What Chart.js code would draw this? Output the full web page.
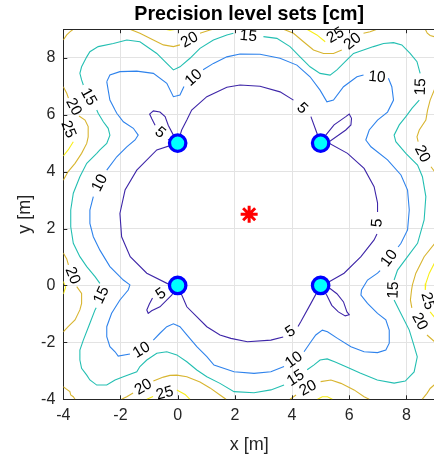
<!DOCTYPE html>
<html><head><meta charset="utf-8">
<script src="https://cdn.jsdelivr.net/npm/chart.js@4.4.1/dist/chart.umd.min.js"></script>
<style>html,body{margin:0;padding:0;overflow:hidden;background:#fff;}#wrap{width:435px;height:460px;}</style>
</head><body><div id="wrap"><canvas id="c" width="435" height="460"></canvas></div>
<script>
// ---------- data ----------
const xTicks = [-4, -2, 0, 2, 4, 6, 8];
const yTicks = [-4, -2, 0, 2, 4, 6, 8];
const levels = [5, 10, 15, 20, 25];
const anchors = [[0, 0], [0, 5], [5, 0], [5, 5]];
const target = [[2.5, 2.5]];

// contour polylines (x, y in metres); null = break (label gap)
const level5Main = [[0,5],[0.14,5.46],[0.32,5.81],[0.49,6.16],[1.02,6.63],[1.72,6.96],[2.18,7.04],[2.88,7.0],[3.58,6.80],[4.05,6.51],null,
  [4.66,5.93],[4.83,5.46],[5,5],[5.30,4.99],[5.94,4.64],[6.52,4.11],[6.87,3.47],[6.99,2.90],[6.99,2.58],null,
  [6.97,1.81],[6.87,1.60],[6.41,1.01],[5.82,0.43],[5.30,0.13],[5,0],[4.66,-0.63],[4.31,-1.27],[4.21,-1.44],null,
  [3.69,-1.81],[3.26,-1.92],[2.44,-1.98],[1.86,-1.86],[1.48,-1.74],[1.02,-1.45],[0.32,-0.75],[0,0],
  [-0.27,0.02],[-1.08,0.43],[-1.66,1.01],[-1.96,1.71],[-2.02,2.53],[-1.84,3.35],[-1.43,4.05],[-0.73,4.76],[0,5]];
const level5LobeA = [[0,5],[-0.15,5.28],[-0.33,5.63],[-0.44,5.93],[-0.62,6.09],[-0.85,6.13],[-0.98,6.02],[-0.90,5.85],[-0.79,5.63],null,[-0.34,5.13],[0,5]];
const level5LobeB = [[5,5],[5.18,5.28],[5.47,5.64],[5.88,5.93],[6.0,6.02],[6.08,5.87],[6.06,5.64],[5.88,5.46],[5.30,5.05],[5,5]];
const level5LobeC = [[0,0],[-0.20,-0.14],null,[-0.88,-0.44],[-0.99,-0.65],[-1.08,-0.86],[-1.03,-0.98],[-0.91,-0.89],[-0.62,-0.75],[-0.21,-0.34],[0,0]];
const level5LobeD = [[5,0],[5.33,-0.11],[5.57,-0.29],[5.80,-0.58],[5.92,-0.93],[6.0,-1.03],[5.86,-1.07],[5.62,-0.93],[5.39,-0.70],[5.22,-0.35],[5,0]];

const level10 = [[-2.48,7.16],[-2.37,7.39],[-2.02,7.51],[-1.43,7.53],[-0.85,7.45],[-0.38,7.10],[-0.15,6.63],[0.08,6.69],[0.22,6.99],null,
  [0.89,7.58],[1.25,7.80],[1.72,8.03],[2.18,8.13],[2.88,8.12],[3.58,7.98],[4.17,7.74],[4.63,7.33],[4.98,6.86],[5.22,6.45],[5.45,6.51],
  [5.80,6.98],[6.27,7.33],[6.50,7.39],null,[7.37,7.28],[7.49,6.98],[7.55,6.51],[7.34,6.09],[6.99,5.81],[6.70,5.46],[6.58,5.11],[6.76,4.87],
  [7.34,4.41],[7.81,3.88],[8.04,3.35],[8.10,2.65],[8.04,1.95],[7.81,1.48],[7.71,1.35],null,[7.08,0.52],[6.99,0.43],[6.64,0.19],[6.43,-0.16],
  [6.41,-0.34],[6.64,-0.63],[6.99,-0.98],[7.28,-1.21],[7.40,-1.57],[7.40,-2.03],[7.28,-2.27],[6.99,-2.36],[6.52,-2.33],[6.06,-2.15],
  [5.59,-1.86],[5.24,-1.63],[5.06,-1.57],[4.83,-1.74],[4.66,-1.98],[4.42,-2.33],null,[3.72,-2.85],[3.26,-3.03],[2.67,-3.09],[1.97,-3.03],
  [1.27,-2.80],[1.02,-2.50],[0.67,-2.15],[0.32,-1.74],[0.08,-1.45],[-0.15,-1.35],[-0.38,-1.45],[-0.62,-1.68],[-0.85,-1.92],null,
  [-1.67,-2.41],[-2.08,-2.48],[-2.19,-2.33],[-2.37,-2.15],[-2.48,-1.80],[-2.48,-1.45],[-2.31,-0.98],[-2.02,-0.51],[-1.73,-0.16],
  [-1.67,0.02],[-1.90,0.19],[-2.37,0.66],[-2.72,1.24],[-2.95,1.71],[-3.07,2.18],[-3.07,2.65],[-2.95,3.12],null,[-2.48,4.05],
  [-2.13,4.52],[-1.78,4.87],[-1.49,5.11],[-1.38,5.28],[-1.55,5.52],[-1.90,5.75],[-2.13,6.05],[-2.19,6.16],[-2.37,6.51],[-2.43,6.86],[-2.48,7.16]];

const level15 = [[-3.30,7.04],[-3.36,7.22],[-3.42,7.45],[-3.36,7.68],[-3.18,8.03],[-3.07,8.21],[-2.78,8.39],[-2.25,8.50],[-1.78,8.62],
  [-1.32,8.56],[-0.73,8.15],[-0.38,7.80],[-0.15,7.57],[0.08,7.68],[0.43,7.98],[0.78,8.33],[1.25,8.62],[1.72,8.80],[1.95,8.86],null,
  [3.0,8.74],[3.47,8.68],[3.93,8.39],[4.28,8.03],[4.63,7.68],[4.98,7.45],[5.33,7.39],[5.57,7.57],[5.92,7.92],[6.15,8.15],[6.50,8.27],
  [6.85,8.39],[7.20,8.50],[7.55,8.53],[7.84,8.45],[8.13,8.15],[8.37,7.86],[8.48,7.45],null,[8.45,6.51],[8.20,6.23],[7.98,5.93],[7.75,5.64],
  [7.57,5.28],[7.63,5.05],[7.98,4.64],[8.39,4.23],[8.56,3.82],[8.68,3.12],[8.62,2.30],[8.39,1.48],[8.04,1.01],[7.69,0.54],[7.57,0.19],null,
  [7.57,-0.51],[7.78,-0.93],[8.10,-1.57],[8.27,-2.13],[8.38,-2.51],[8.27,-3.04],[7.96,-3.36],[7.57,-3.43],[6.98,-3.32],[6.38,-3.08],
  [5.93,-2.87],[5.51,-2.69],[5.23,-2.58],[4.98,-2.62],[4.77,-2.79],[4.53,-2.96],null,[3.72,-3.50],[3.26,-3.67],[2.67,-3.77],[1.97,-3.73],
  [1.48,-3.44],[1.02,-3.21],[0.67,-2.97],[0.32,-2.68],[-0.03,-2.44],[-0.38,-2.33],[-0.73,-2.38],[-1.08,-2.62],[-1.32,-2.85],[-1.43,-3.03],
  [-1.90,-3.21],[-2.19,-3.32],[-2.48,-3.50],[-2.83,-3.50],[-3.07,-3.32],[-3.18,-3.15],[-3.36,-2.91],[-3.42,-2.62],[-3.42,-2.27],
  [-3.30,-1.92],[-3.07,-1.33],[-2.89,-0.86],[-2.85,-0.78],null,[-2.72,0.07],[-2.89,0.31],[-3.18,0.66],[-3.42,1.01],[-3.65,1.48],
  [-3.74,2.06],[-3.74,2.65],[-3.65,3.24],[-3.42,3.82],[-3.18,4.29],[-2.83,4.64],[-2.72,4.76],[-2.48,4.99],[-2.37,5.28],[-2.43,5.52],
  [-2.60,5.75],[-2.78,6.05],[-2.83,6.16]];

const level20 = [
  [-4,8.62],[-3.88,8.80],[-3.77,8.91],[-3.65,9.0],null,
  [-1.67,9.0],[-1.32,8.86],[-0.85,8.62],[-0.50,8.45],[-0.15,8.39],[0.08,8.45],null,[0.78,8.86],[1.13,8.97],[1.24,9.0],null,
  [3.70,9.0],[4.05,8.86],[4.40,8.56],[4.75,8.27],[5.10,8.15],[5.45,8.15],[5.74,8.27],null,[6.50,8.86],[6.73,8.91],[6.97,9.0],null,
  [8.66,9.0],[8.73,8.86],[8.83,8.78],[9.0,8.73],null,
  [9.0,6.93],[8.83,6.51],[8.74,6.16],[8.68,5.81],[8.45,5.46],[8.37,5.22],[8.41,5.05],null,[8.86,4.17],[9.0,3.98],null,
  [9.0,1.49],[8.62,1.01],[8.33,0.43],[8.21,0.02],[8.18,-0.16],[8.14,-0.51],[8.19,-0.79],null,[8.72,-1.74],[9.0,-1.99],null,
  [8.55,-4.0],[8.72,-3.79],[8.83,-3.62],[9.0,-3.47],null,
  [3.93,-4.0],[4.14,-3.85],null,[5.0,-3.38],[5.36,-3.32],[5.71,-3.44],[6.17,-3.67],[6.52,-3.91],[6.70,-4.0],null,
  [-1.96,-4.0],[-1.78,-3.91],[-1.56,-3.78],null,[-0.85,-3.36],[-0.50,-3.22],[-0.27,-3.16],[-0.03,-3.15],[0.32,-3.21],[0.78,-3.39],
  [1.13,-3.60],[1.48,-3.85],[1.69,-4.0],null,
  [-4,-3.56],[-3.88,-3.65],[-3.77,-3.73],[-3.74,-3.85],[-3.65,-3.91],[-3.59,-4.0],null,
  [-4,1.14],[-3.88,0.93],[-3.82,0.72],null,[-3.53,-0.04],[-3.36,-0.28],[-3.36,-0.63],[-3.42,-0.86],[-3.59,-1.21],[-3.83,-1.45],[-4,-1.63],null,
  [-4,6.98],[-3.88,6.75],[-3.82,6.58],null,[-3.45,5.95],[-3.24,5.81],[-3.13,5.58],[-3.13,5.22],[-3.18,4.99],[-3.36,4.64],[-3.59,4.29],[-3.83,4.0],[-4,3.70]];

const level25 = [
  [-0.44,9.0],[-0.27,8.97],[-0.03,9.0],null,
  [4.52,9.0],[4.87,8.80],[5.16,8.56],null,
  [9.0,0.82],[8.80,0.43],[8.68,0.07],[8.66,-0.16],null,[8.83,-0.93],[9.0,-1.14],null,
  [4.89,-4.0],[5.06,-3.91],[5.24,-3.91],[5.41,-4.0],null,
  [-1.08,-4.0],[-0.86,-3.90],null,[-0.03,-3.67],[0.26,-3.83],[0.43,-4.0],null,
  [-4,5.91],null,[-3.65,5.05],[-3.83,4.76],[-4,4.55],null,
  [-4,0.14],[-3.92,-0.07],[-4,-0.30]];

// contour labels: [level, x, y, angle in degrees]
const contourLabels = [
  [5,4.35,6.22,44],[5,6.98,2.20,-86],[5,3.95,-1.63,-33],[5,-0.62,5.36,40],[5,-0.58,-0.30,-35],
  [10,0.56,7.29,-42],[10,6.97,7.31,5],[10,7.40,0.95,-53],[10,4.07,-2.62,-36],[10,-1.26,-2.27,-31],[10,-2.72,3.60,-63],
  [15,-3.12,6.62,61],[15,2.47,8.75,5],[15,8.50,6.98,-88],[15,7.55,-0.16,-88],[15,4.13,-3.26,-32],[15,-2.66,-0.34,-65],
  [20,0.42,8.62,-30],[20,6.12,8.57,-38],[20,8.55,4.62,63],[20,8.46,-1.27,62],[20,4.56,-3.61,-28],[20,-1.20,-3.57,-31],[20,-3.68,0.34,68],[20,-3.64,6.27,62],
  [25,5.52,8.78,-31],[25,8.74,-0.55,75],[25,-0.45,-3.79,-15],[25,-3.83,5.48,68]];

// ---------- styles ----------
const FONT = '"Liberation Sans", Arial, Helvetica, sans-serif';
const levelColor = {5:'#3e26a8', 10:'#2f83ec', 15:'#24bfb2', 20:'#d8b530', 25:'#f8ee18'};

const toPts = arr => arr.map(p => p ? {x:p[0], y:p[1]} : {x:null, y:null});
const lineDs = (arr, lv) => ({type:'scatter', data: toPts(arr), showLine:true, borderColor: levelColor[lv],
  borderWidth:1.1, pointRadius:0, pointHoverRadius:0, fill:false, tension:0, spanGaps:false});

const datasets = [
  {type:'scatter', data: toPts(target), pointStyle:'star', pointRadius:8.5, borderColor:'#ff0000', borderWidth:3, backgroundColor:'#ff0000'},
  {type:'scatter', data: toPts(anchors), pointStyle:'circle', pointRadius:8.2, borderColor:'#0000ff', borderWidth:3.3, backgroundColor:'#00ffff'},
  lineDs(level5Main,5), lineDs(level5LobeA,5), lineDs(level5LobeB,5), lineDs(level5LobeC,5), lineDs(level5LobeD,5),
  lineDs(level10,10), lineDs(level15,15), lineDs(level20,20), lineDs(level25,25)
];

const extras = {
  id:'extras',
  afterDatasetsDraw(chart){
    const {ctx, chartArea:a, scales:{x, y}} = chart;
    ctx.save();
    ctx.fillStyle = '#000';
    ctx.font = '15.5px ' + FONT;
    ctx.textAlign = 'center';
    ctx.textBaseline = 'middle';
    for (const [lv, lx, ly, ang] of contourLabels) {
      ctx.save();
      ctx.translate(x.getPixelForValue(lx), y.getPixelForValue(ly));
      ctx.rotate(ang * Math.PI / 180);
      ctx.fillText(String(lv), 0, 0);
      ctx.restore();
    }
    ctx.strokeStyle = '#262626';
    ctx.lineWidth = 1;
    ctx.beginPath();
    const top = Math.round(a.top) + 0.5;
    ctx.moveTo(a.left, top); ctx.lineTo(a.right, top);
    const tl = 4;
    for (const v of xTicks) {
      const px = Math.round(x.getPixelForValue(v)) + 0.5;
      ctx.moveTo(px, a.bottom); ctx.lineTo(px, a.bottom - tl);
      ctx.moveTo(px, a.top); ctx.lineTo(px, a.top + tl);
    }
    for (const v of yTicks) {
      const py = Math.round(y.getPixelForValue(v)) + 0.5;
      ctx.moveTo(a.left, py); ctx.lineTo(a.left + tl, py);
    }
    ctx.stroke();
    ctx.restore();
  }
};

new Chart(document.getElementById('c'), {
  type:'scatter',
  data:{datasets},
  plugins:[extras],
  options:{
    responsive:false, animation:false, devicePixelRatio:1, events:[],
    layout:{padding:0, autoPadding:false},
    plugins:{
      legend:{display:false}, tooltip:{enabled:false},
      title:{display:true, text:'Precision level sets [cm]', color:'#000', fullSize:false,
        font:{family:FONT, size:19.7, weight:'bold'}, padding:{top:3, bottom:2.6}}
    },
    scales:{
      x:{type:'linear', min:-4, max:9,
        afterBuildTicks: s => { s.ticks = xTicks.map(v => ({value:v})); },
        afterFit: s => { s.height = 60.7; },
        grid:{color:'#e3e3e3', drawTicks:false},
        border:{color:'#262626', width:1},
        ticks:{padding:7, color:'#262626', font:{family:FONT, size:16}},
        title:{display:true, text:'x [m]', color:'#262626', font:{family:FONT, size:18}, padding:{top:0, bottom:4}}},
      y:{type:'linear', min:-4, max:9,
        afterBuildTicks: s => { s.ticks = yTicks.map(v => ({value:v})); },
        afterFit: s => { s.width = 63.3; },
        grid:{color:'#e3e3e3', drawTicks:false},
        border:{color:'#262626', width:1},
        ticks:{padding:8, color:'#262626', font:{family:FONT, size:16}},
        title:{display:true, text:'y [m]', color:'#262626', font:{family:FONT, size:18}, padding:{top:14, bottom:0}}}
    }
  }
});
</script></body></html>
